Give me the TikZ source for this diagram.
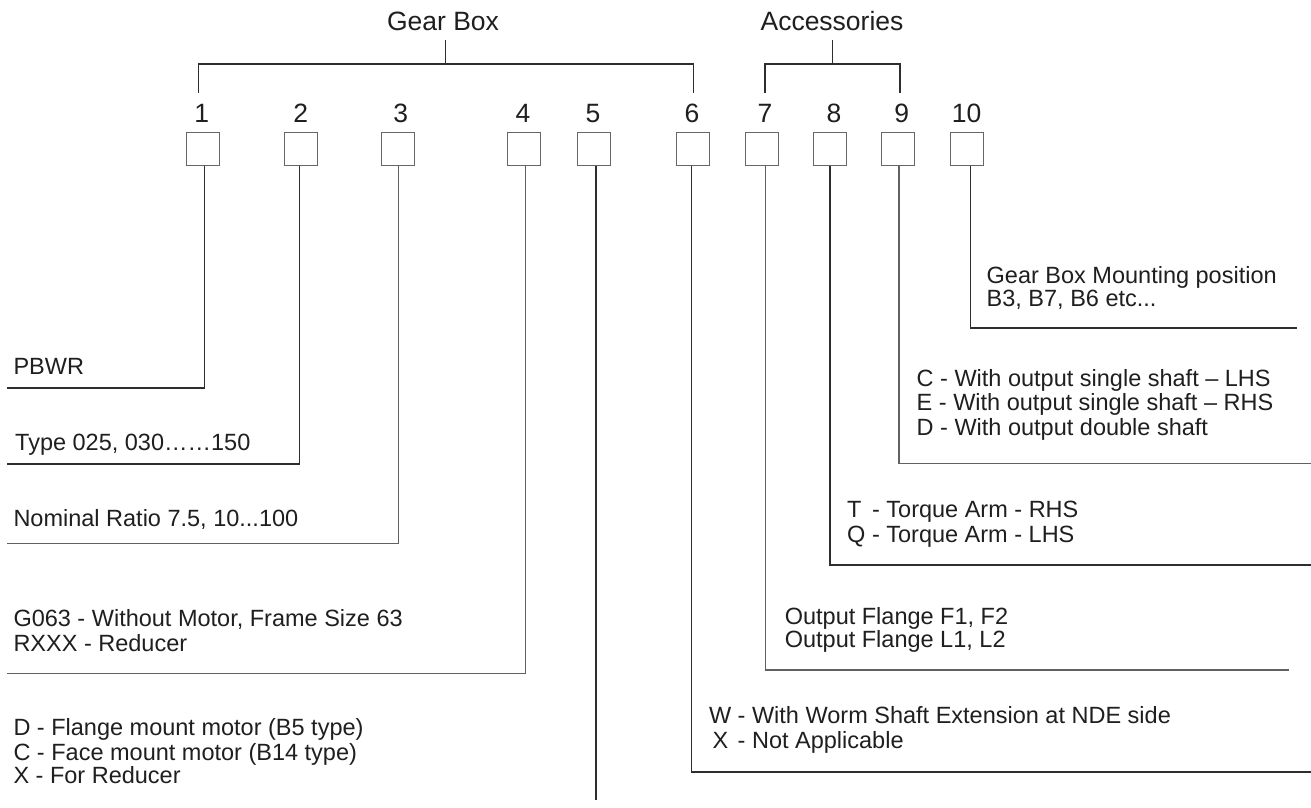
\documentclass[tikz,border=0pt]{standalone}
\usepackage{fontspec}
\setmainfont{Liberation Sans}
\begin{document}
\begin{tikzpicture}[x=1pt,y=-1pt,
  cell/.style={draw=black!60,line width=1.2pt,minimum width=33pt,minimum height=33pt,inner sep=0pt,outer sep=0pt},
  num/.style={anchor=base,inner sep=0pt,font=\fontsize{26.5}{28}\selectfont,text=black!88},
  head/.style={anchor=base,inner sep=0pt,font=\fontsize{26.5}{28}\selectfont,text=black!88},
  txt/.style={anchor=base west,inner sep=0pt,font=\fontsize{23.5}{24.5}\selectfont,text=black!88},
  wire/.style={draw=black!82,line width=1.3pt},
  wireg/.style={draw=black!62,line width=1.3pt}]
\useasboundingbox (0,0) rectangle (1311,807);
\fill[white] (0,0) rectangle (1311,807);

% headers
\node[head] (gb) at (443,30) {Gear Box};
\node[head] (acc) at (832,30) {Accessories};

% numbers
\node[num] (n1) at (201.7,122.7) {1};
\node[num] (n2) at (300.7,122.7) {2};
\node[num] (n3) at (400.7,122.7) {3};
\node[num] (n4) at (523,122.7) {4};
\node[num] (n5) at (593,122.7) {5};
\node[num] (n6) at (692,122.7) {6};
\node[num] (n7) at (765,122.7) {7};
\node[num] (n8) at (834,122.7) {8};
\node[num] (n9) at (901.7,122.7) {9};
\node[num] (n10) at (966.7,122.7) {10};

% boxes
\node[cell] (b1) at (203.2,149.2) {};
\node[cell] (b2) at (300.8,149.2) {};
\node[cell] (b3) at (398.2,149.2) {};
\node[cell] (b4) at (524.2,149.2) {};
\node[cell] (b5) at (593.8,149.2) {};
\node[cell] (b6) at (693.2,149.2) {};
\node[cell] (b7) at (761.8,149.2) {};
\node[cell] (b8) at (829.8,149.2) {};
\node[cell] (b9) at (898.2,149.2) {};
\node[cell] (b10) at (966.8,149.2) {};

% brackets
\coordinate (gbs) at (445.7,40);
\coordinate (gbm) at (445.7,64);
\coordinate (gbl) at (198.3,92.7);
\coordinate (gbr) at (693.3,92.7);
\draw[wire] (gbs) -- (gbm);
\draw[wire] (gbl) |- (gbm) -| (gbr);
\coordinate (acs) at (832.3,40);
\coordinate (acm) at (832.3,64);
\coordinate (acl) at (765,92.7);
\coordinate (acr) at (900,92.7);
\draw[wire] (acs) -- (acm);
\draw[wire] (acl) |- (acm) -| (acr);

% corners and free ends
\coordinate (c1) at (204.3,388); \coordinate (e1) at (7.3,388);
\coordinate (c2) at (299.3,464); \coordinate (e2) at (7.3,464);
\coordinate (c3) at (398.3,543.3); \coordinate (e3) at (7.3,543.3);
\coordinate (c4) at (525.7,673.3); \coordinate (e4) at (7.3,673.3);
\coordinate (c5) at (596,800);
\coordinate (c6) at (691.3,772); \coordinate (e6) at (1311,772);
\coordinate (c7) at (765.3,670); \coordinate (e7) at (1289,670);
\coordinate (c8) at (830,565); \coordinate (e8) at (1311,565);
\coordinate (c9) at (899,463.3); \coordinate (e9) at (1311,463.3);
\coordinate (c10) at (970.7,328); \coordinate (e10) at (1297,328);

\draw[wire] (b1.south -| c1) -- (c1) -- (e1);
\draw[wire] (b2.south -| c2) -- (c2) -- (e2);
\draw[wireg] (b3.south -| c3) -- (c3) -- (e3);
\draw[wireg] (b4.south -| c4) -- (c4) -- (e4);
\draw[wire] (b5.south -| c5) -- (c5);
\draw[wire] (b6.south -| c6) -- (c6) -- (e6);
\draw[wireg] (b7.south -| c7) -- (c7) -- (e7);
\draw[wire] (b8.south -| c8) -- (c8) -- (e8);
\draw[wireg] (b9.south -| c9) -- (c9) -- (e9);
\draw[wire] (b10.south -| c10) -- (c10) -- (e10);

% left texts
\node[txt] (t1) at (13.3,374.8) {PBWR};
\node[txt] (t2) at (15,450) {Type 025, 030……150};
\node[txt] (t3) at (13.3,526.7) {Nominal Ratio 7.5, 10...100};
\node[txt] (t4a) at (13.3,626.4) {G063 - Without Motor, Frame Size 63};
\node[txt] (t4b) at (13.3,651) {RXXX - Reducer};
\node[txt] (t5a) at (13.3,735.4) {D - Flange mount motor (B5 type)};
\node[txt] (t5b) at (13.3,760) {C - Face mount motor (B14 type)};
\node[txt] (t5c) at (13.3,783.4) {X - For Reducer};

% right texts
\node[txt] (t10a) at (986.5,283) {Gear Box Mounting position};
\node[txt] (t10b) at (986.5,306.5) {B3, B7, B6 etc...};
\node[txt] (t9a) at (916.5,386.4) {C - With output single shaft – LHS};
\node[txt] (t9b) at (916.5,410.8) {E - With output single shaft – RHS};
\node[txt] (t9c) at (916.5,435.2) {D - With output double shaft};
\node[txt] (t8a) at (847,517.6) {T\hspace{0.17em} - Torque Arm - RHS};
\node[txt] (t8b) at (847,542) {Q - Torque Arm - LHS};
\node[txt] (t7a) at (784.6,624.3) {Output Flange F1, F2};
\node[txt] (t7b) at (784.6,647.8) {Output Flange L1, L2};
\node[txt] (t6a) at (708.8,723.6) {W - With Worm Shaft Extension at NDE side};
\node[txt] (t6b) at (712.5,748.9) {X\hspace{0.12em} - Not Applicable};
\end{tikzpicture}
\end{document}
